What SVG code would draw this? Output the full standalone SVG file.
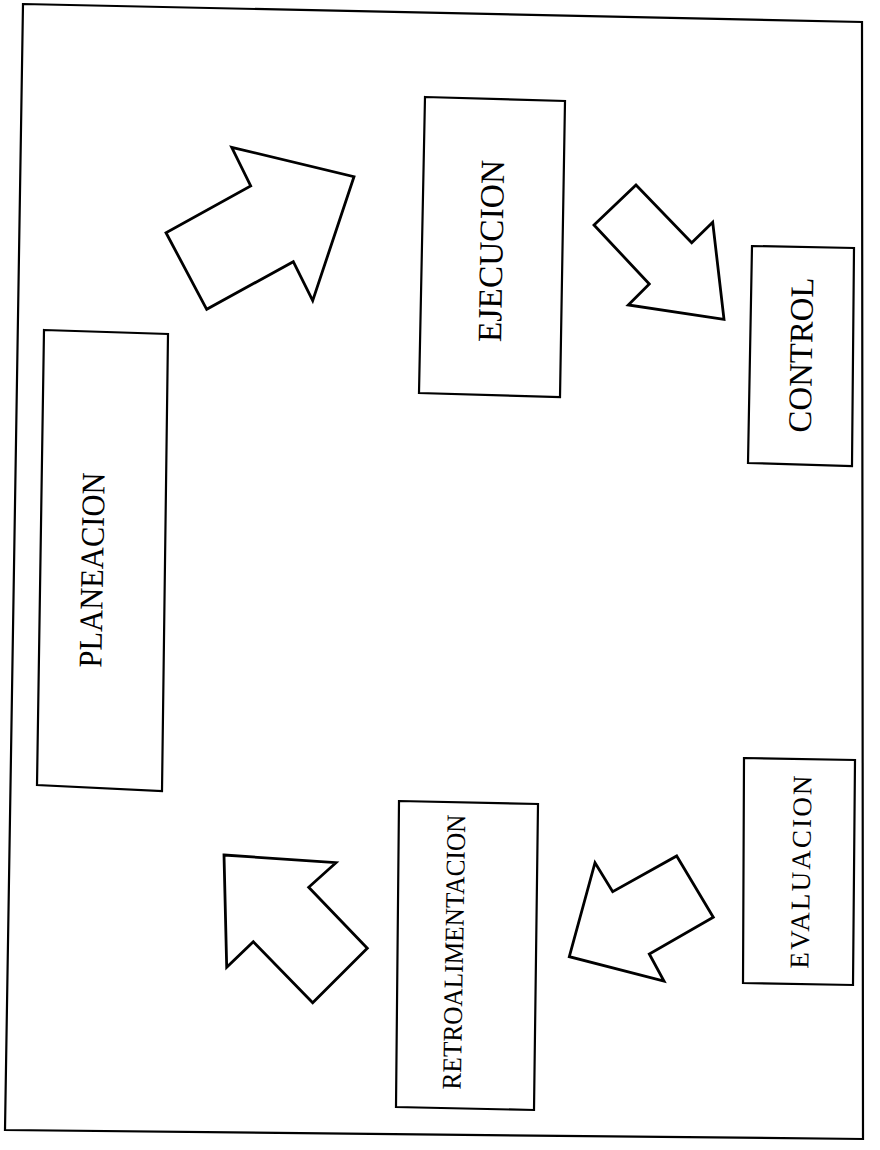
<svg xmlns="http://www.w3.org/2000/svg" width="880" height="1150" viewBox="0 0 880 1150">
<style>
.frame{fill:none;stroke:#000;stroke-width:2.2}
.box{fill:#fff;stroke:#000;stroke-width:2.2}
.arrow{fill:#fff;stroke:#000;stroke-width:2.8;stroke-linejoin:miter}
.lbl{font-family:"Liberation Serif","Times New Roman",serif;fill:#000;text-anchor:middle;dominant-baseline:central}
</style>
<rect width="880" height="1150" fill="#fff"/>
<polygon class="frame" points="23,4 862,22 863,1139 5,1130"/>
<g id="connectors">
<polygon class="arrow" points="231.7,147.3 354,176.7 312.7,300.7 293.3,261.7 206.7,309.3 166,232.7 250.7,186"/>
<polygon class="arrow" points="636,185 691.7,242.7 712.7,222.3 724,319.3 628.3,305 649.3,284 594,225"/>
<polygon class="arrow" points="676.7,856 713.3,917.3 649.3,954 664,981 569.3,956.7 595,862.7 612.7,891.7"/>
<polygon class="arrow" points="224,855 336,862.7 308.7,887.3 367.3,948.3 312.7,1002.7 253.3,941.7 226.7,967.3"/>
</g>
<g id="planeacion">
<polygon class="box" points="44,330 168,334 162,791 37,785"/>
<text class="lbl" x="92" y="570" font-size="33" textLength="195" lengthAdjust="spacingAndGlyphs" transform="rotate(-89 92 570)">PLANEACION</text>
</g>
<g id="ejecucion">
<polygon class="box" points="425,97 565,101 560,397 419,393"/>
<text class="lbl" x="491" y="251" font-size="34" textLength="182" lengthAdjust="spacingAndGlyphs" transform="rotate(-89 491 251)">EJECUCION</text>
</g>
<g id="control">
<polygon class="box" points="752,246 854,248 852,466 748,463"/>
<text class="lbl" x="801" y="355" font-size="33" textLength="155" lengthAdjust="spacingAndGlyphs" transform="rotate(-89 801 355)">CONTROL</text>
</g>
<g id="evaluacion">
<polygon class="box" points="744,758 855,760 853,985 743,983"/>
<text class="lbl" x="801" y="872" font-size="27" textLength="193" transform="rotate(-89 801 872)">EVALUACION</text>
</g>
<g id="retroalimentacion">
<polygon class="box" points="399,801 538,804 534,1110 396,1107"/>
<text class="lbl" x="454" y="952" font-size="27" textLength="275" lengthAdjust="spacingAndGlyphs" transform="rotate(-89 454 952)">RETROALIMENTACION</text>
</g>
</svg>
